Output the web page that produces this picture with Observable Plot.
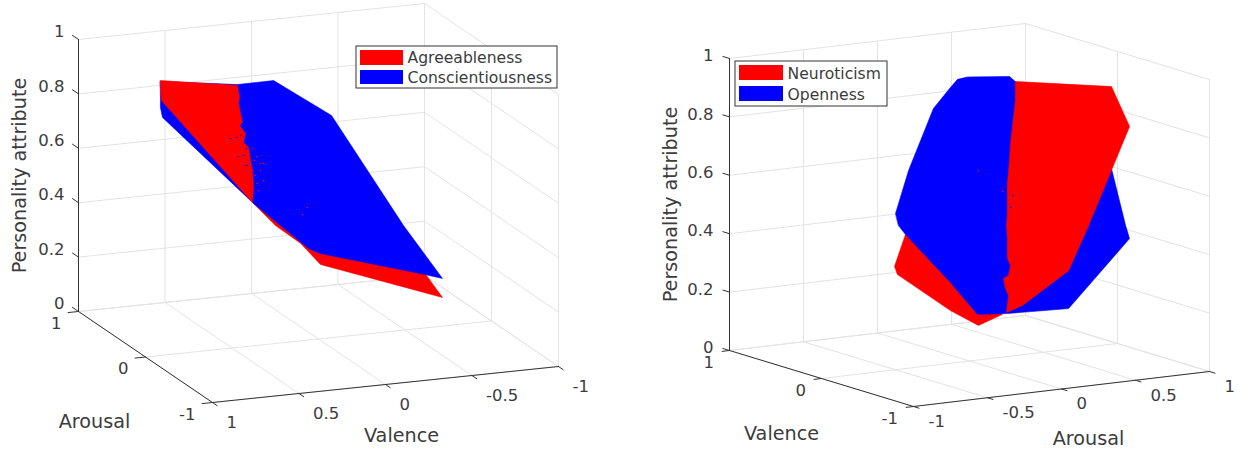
<!DOCTYPE html>
<html>
<head>
<meta charset="utf-8">
<script src="https://cdn.jsdelivr.net/npm/d3@7"></script>
<script src="https://cdn.jsdelivr.net/npm/@observablehq/plot@0.6"></script>
<style>
html,body{margin:0;padding:0;background:#fff}
#wrap{display:flex;width:1246px;height:451px;overflow:hidden}
#wrap svg{display:block}
</style>
</head>
<body>
<div id="wrap"></div>
<script>
// Tick values
const valenceTicksLeft = [1, 0.5, 0, -0.5, -1];
const arousalTicksLeft = [1, 0, -1];
const arousalTicksRight = [-1, -0.5, 0, 0.5, 1];
const valenceTicksRight = [1, 0, -1];
const attributeTicks = [0, 0.2, 0.4, 0.6, 0.8, 1];

// Outlines. One view gives no depth, so the left hulls are
// read at arousal 0.5 as [valence, attribute], the right at valence -0.2 as [arousal, attribute].
const agreeablenessLower = [[0.188,0.431],[0.055,0.337],[-0.090,0.262],[-0.205,0.177],[-0.910,0.009],[-0.806,0.107],[-0.090,0.328]];
const conscientiousness = [[0.720,0.841],[0.720,0.815],[0.708,0.778],[0.488,0.631],[0.188,0.431],[0.026,0.335],[-0.136,0.240],[-0.205,0.217],[-0.783,0.105],[-0.910,0.079],[-0.685,0.288],[-0.269,0.720],[0.066,0.871],[0.275,0.870],[0.720,0.911]];
const agreeablenessUpper = [[0.720,0.914],[0.275,0.867],[0.263,0.822],[0.269,0.800],[0.246,0.729],[0.263,0.719],[0.228,0.687],[0.240,0.655],[0.211,0.634],[0.199,0.586],[0.188,0.548],[0.182,0.485],[0.188,0.431],[0.714,0.840]];
const conscientiousnessSpecks = [[0.315,0.674],[0.280,0.676],[0.269,0.605],[0.228,0.569],[0.240,0.607],[0.217,0.569],[0.257,0.682],[0.223,0.631]];
const agreeablenessSpecks = [[0.165,0.598],[0.142,0.571],[0.124,0.570],[0.142,0.545],[0.124,0.507],[0.153,0.472],[-0.130,0.391],[-0.101,0.367],[0.188,0.630],[0.176,0.584],[0.171,0.529],[0.159,0.499]];

const neuroticismLower = [[-0.557,0.486],[-0.631,0.381],[-0.611,0.352],[-0.253,0.207],[-0.064,0.145],[0.099,0.173],[-0.070,0.231]];
const openness = [[-0.624,0.562],[-0.536,0.704],[-0.368,0.906],[-0.253,0.971],[-0.205,0.996],[-0.138,1.000],[0.146,0.985],[0.193,0.961],[0.835,0.628],[0.930,0.428],[0.957,0.381],[0.545,0.166],[0.132,0.174],[-0.070,0.183],[-0.253,0.303],[-0.557,0.486],[-0.604,0.519]];
const neuroticismUpper = [[0.186,0.965],[0.835,0.909],[0.957,0.765],[0.680,0.442],[0.545,0.296],[0.234,0.195],[0.126,0.178],[0.139,0.235],[0.119,0.260],[0.105,0.295],[0.139,0.304],[0.153,0.337],[0.132,0.362],[0.132,0.431],[0.126,0.476],[0.132,0.516],[0.132,0.619],[0.146,0.697],[0.153,0.755],[0.166,0.809],[0.186,0.900]];
const neuroticismSpecks = [[-0.064,0.675],[0.099,0.594]];
const opennessSpecks = [[0.166,0.576],[0.153,0.536]];

const RED = "#ff0000", BLUE = "#0000ff", GRID = "#e3e3e3", AXIS = "#333333", TEXT = "#3c3c3c";
const FONT = "DejaVu Sans";

function panel(c) {
  const P = (v, a, z) => c.project(v, a, z);
  const seg = (id, A, B) => [A, B].map(p => { const [x, y] = P(...p); return {id, x, y}; });
  const grid = [], axes = [];
  let n = 0;
  for (const v of c.valenceTicks) {
    grid.push(...seg(n++, [v, -1, 0], [v, 1, 0]), ...seg(n++, [v, c.wallA, 0], [v, c.wallA, 1]));
    const s = [v, c.axisA, 0]; axes.push(...seg(n++, s, [v, c.axisA + c.tickV, 0]));
  }
  for (const a of c.arousalTicks) {
    grid.push(...seg(n++, [-1, a, 0], [1, a, 0]), ...seg(n++, [c.wallV, a, 0], [c.wallV, a, 1]));
    axes.push(...seg(n++, [c.axisV, a, 0], [c.axisV + c.tickA, a, 0]));
  }
  for (const z of attributeTicks) {
    grid.push(...seg(n++, [1, c.wallA, z], [-1, c.wallA, z]), ...seg(n++, [c.wallV, 1, z], [c.wallV, -1, z]));
    axes.push(...seg(n++, [c.zV, c.zA, z], [c.zV + c.tickZ[0], c.zA + c.tickZ[1], z]));
  }
  axes.push(...seg(n++, [c.zV, c.zA, 0], [c.zV, c.zA, 1]));
  axes.push(...seg(n++, [1, c.axisA, 0], [-1, c.axisA, 0]));
  axes.push(...seg(n++, [c.axisV, 1, 0], [c.axisV, -1, 0]));

  const hull = (rows, fill) => Plot.line(rows.map(r => { const [x, y] = c.lift(r); return {x, y}; }),
    {x: "x", y: "y", fill, stroke: fill, strokeWidth: 0.6, curve: "linear-closed"});
  const specks = (rows, fill) => Plot.dot(rows.map(r => { const [x, y] = c.lift(r); return {x, y}; }),
    {x: "x", y: "y", r: 0.8, fill, stroke: null});
  const tickText = (rows, o) => Plot.text(rows, {x: "x", y: "y", text: "t", fontSize: 16.5, fill: TEXT, ...o});
  const at = (list, f) => list.map(t => { const [x, y] = f(t); return {x, y, t: String(t)}; });
  const L = c.legend;

  return Plot.plot({
    width: 623, height: 451, margin: 0,
    x: {domain: [c.x0, c.x0 + 623], range: [0, 623], axis: null},
    y: {domain: [0, 451], range: [0, 451], axis: null},
    style: {fontFamily: FONT, background: "white"},
    marks: [
      Plot.line(grid, {x: "x", y: "y", z: "id", stroke: GRID, strokeWidth: 1}),
      Plot.line(axes, {x: "x", y: "y", z: "id", stroke: AXIS, strokeWidth: 1}),
      hull(c.lower, RED), hull(c.blue, BLUE), hull(c.upper, RED),
      specks(c.blueSpecks, BLUE), specks(c.redSpecks, RED),
      tickText(at(attributeTicks, z => P(c.zV, c.zA, z)), {textAnchor: "end", dx: c.zDx, dy: c.zDy}),
      tickText(at(c.valenceTicks, v => P(v, c.axisA, 0)), {textAnchor: c.vAnchor, dx: c.vDx, dy: c.vDy}),
      tickText(at(c.arousalTicks, a => P(c.axisV, a, 0)), {textAnchor: c.aAnchor, dx: c.aDx, dy: c.aDy}),
      Plot.text(c.titles, {x: "x", y: "y", text: "t", rotate: "r", fontSize: 19.2, fill: TEXT}),
      Plot.rect([L.box], {x1: "x1", x2: "x2", y1: "y1", y2: "y2", fill: "white", stroke: AXIS, strokeWidth: 1}),
      Plot.rect(L.rows, {x1: "x1", x2: "x2", y1: "y1", y2: "y2", fill: "c"}),
      Plot.text(L.rows, {x: "tx", y: "ty", text: "t", textAnchor: "start", fontSize: 15.6, fill: TEXT})
    ]
  });
}

const left = panel({
  x0: 0,
  project: (v, a, z) => [318 - 173 * v - 67 * a, 338.5 + 18 * v - 45.5 * a - 272 * z],
  lift: ([v, z]) => [318 - 173 * v - 67 * 0.5, 338.5 + 18 * v - 45.5 * 0.5 - 272 * z],
  valenceTicks: valenceTicksLeft, arousalTicks: arousalTicksLeft,
  wallA: 1, wallV: -1, axisA: -1, axisV: 1, zV: 1, zA: 1,
  tickV: -0.07, tickA: 0.06, tickZ: [0, 0.09],
  zDx: -14, zDy: -7.5, vAnchor: "start", vDx: 14, vDy: 20, aAnchor: "end", aDx: -17, aDy: 12,
  lower: agreeablenessLower, blue: conscientiousness, upper: agreeablenessUpper,
  blueSpecks: conscientiousnessSpecks, redSpecks: agreeablenessSpecks,
  titles: [
    {x: 19, y: 175, t: "Personality attribute", r: -90},
    {x: 94, y: 421, t: "Arousal", r: 0},
    {x: 401, y: 435, t: "Valence", r: 0}
  ],
  legend: {
    box: {x1: 356, x2: 557, y1: 46, y2: 88},
    rows: [
      {x1: 360, x2: 403, y1: 50, y2: 65, c: RED, t: "Agreeableness", tx: 407, ty: 57.5},
      {x1: 360, x2: 403, y1: 70, y2: 84, c: BLUE, t: "Conscientiousness", tx: 407, ty: 77}
    ]
  }
});

const right = panel({
  x0: 623,
  project: (v, a, z) => [969 + 148 * a - 92 * v, 360.5 - 17.5 * a - 28 * v - 292 * z],
  lift: ([a, z]) => [969 + 148 * a - 92 * -0.2, 360.5 - 17.5 * a - 28 * -0.2 - 292 * z],
  valenceTicks: valenceTicksRight, arousalTicks: arousalTicksRight,
  wallA: 1, wallV: 1, axisA: -1, axisV: -1, zV: 1, zA: -1,
  tickV: -0.05, tickA: -0.06, tickZ: [0.072, 0],
  zDx: -16, zDy: -2.5, vAnchor: "end", vDx: -15.5, vDy: 12, aAnchor: "start", aDx: 15, aDy: 15,
  lower: neuroticismLower, blue: openness, upper: neuroticismUpper,
  blueSpecks: opennessSpecks, redSpecks: neuroticismSpecks,
  titles: [
    {x: 670, y: 204, t: "Personality attribute", r: -90},
    {x: 781, y: 433, t: "Valence", r: 0},
    {x: 1088, y: 438, t: "Arousal", r: 0}
  ],
  legend: {
    box: {x1: 735, x2: 887, y1: 61, y2: 106},
    rows: [
      {x1: 739, x2: 783, y1: 65, y2: 80, c: RED, t: "Neuroticism", tx: 787, ty: 73},
      {x1: 739, x2: 783, y1: 86, y2: 101, c: BLUE, t: "Openness", tx: 787, ty: 94}
    ]
  }
});

document.getElementById("wrap").append(left, right);
</script>
</body>
</html>
